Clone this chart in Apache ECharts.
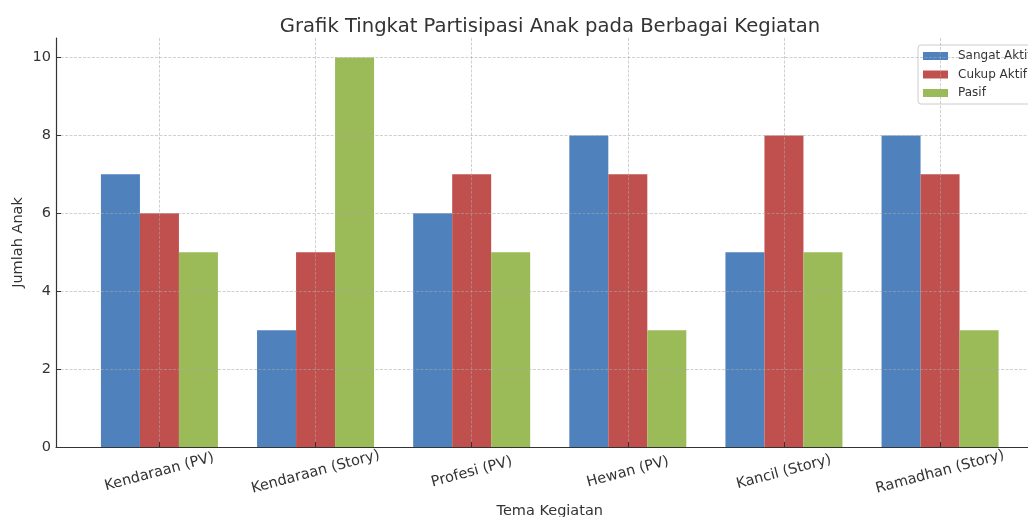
<!DOCTYPE html>
<html>
<head>
<meta charset="utf-8">
<title>Grafik Tingkat Partisipasi Anak</title>
<script src="https://cdn.jsdelivr.net/npm/echarts@6/dist/echarts.min.js"></script>
<style>
  html, body { margin: 0; padding: 0; background: #fff; }
  #chart { width: 1028px; height: 517px; }
</style>
</head>
<body>
<div id="chart"></div>
<script>
// data
var categories = ['Kendaraan (PV)', 'Kendaraan (Story)', 'Profesi (PV)', 'Hewan (PV)', 'Kancil (Story)', 'Ramadhan (Story)']
var sangatAktif = [7, 3, 6, 8, 5, 8]
var cukupAktif = [6, 5, 7, 7, 8, 7]
var pasif = [5, 10, 5, 3, 5, 3]
var seriesNames = ['Sangat Aktif', 'Cukup Aktif', 'Pasif']
var yTicks = [0, 2, 4, 6, 8, 10]

var colors = ['#4f81bd', '#c0504d', '#9bbb59']
var font = 'DejaVu Sans'

function toPoints (values) {
  var out = []
  for (var i = 0; i < values.length; i++) {
    out.push([i, values[i]])
  }
  return out
}

// dashed grid, drawn over the bars like the original
var gridLine = { color: 'rgba(170,170,170,0.55)', width: 1, type: [3, 1.5] }

var myChart = echarts.init(document.getElementById('chart'))
var option = {
  animation: false,
  color: colors,
  textStyle: { fontFamily: font, color: '#333' },
  title: {
    text: 'Grafik Tingkat Partisipasi Anak pada Berbagai Kegiatan',
    left: 545,
    textAlign: 'center',
    top: 12,
    textStyle: { fontFamily: font, fontSize: 19.6, fontWeight: 'normal', color: '#333' }
  },
  legend: {
    data: seriesNames,
    orient: 'vertical',
    left: 918,
    top: 45,
    icon: 'rect',
    itemWidth: 25,
    itemHeight: 8,
    itemGap: 6.5,
    padding: [5, 15, 5, 5],
    borderColor: '#cccccc',
    borderWidth: 1,
    borderRadius: 3,
    backgroundColor: 'rgba(255,255,255,0.85)',
    textStyle: { fontFamily: font, fontSize: 12, color: '#333', padding: [0, 0, 0, 5] }
  },
  grid: {
    left: 56,
    right: -15.5,
    top: 38,
    bottom: 70,
    containLabel: false,
    outerBoundsMode: 'none'
  },
  xAxis: {
    type: 'value',
    min: -0.6625,
    max: 5.6625,
    minInterval: 1,
    maxInterval: 1,
    z: 5,
    name: 'Tema Kegiatan',
    nameLocation: 'middle',
    nameGap: 57,
    nameTextStyle: { fontFamily: font, fontSize: 14.5, color: '#333' },
    axisLine: { show: true, onZero: false, lineStyle: { color: '#333', width: 1.2 } },
    axisTick: { show: true, inside: true, length: 5, lineStyle: { color: '#333' } },
    axisLabel: {
      rotate: 15,
      align: 'center',
      verticalAlign: 'middle',
      margin: 25,
      fontFamily: font,
      fontSize: 14.5,
      color: '#333',
      showMinLabel: false,
      showMaxLabel: false,
      formatter: function (v) {
        return Number.isInteger(v) && categories[v] ? categories[v] : ''
      }
    },
    splitLine: { show: true, showMinLine: false, showMaxLine: false, lineStyle: gridLine }
  },
  yAxis: {
    type: 'value',
    min: 0,
    max: 10.5,
    interval: yTicks[1] - yTicks[0],
    z: 5,
    name: 'Jumlah Anak',
    nameLocation: 'middle',
    nameGap: 30,
    nameMoveOverlap: false,
    nameTextStyle: { fontFamily: font, fontSize: 14.5, color: '#333' },
    axisLine: { show: true, onZero: false, lineStyle: { color: '#333', width: 1.2 } },
    axisTick: { show: true, inside: true, length: 5, lineStyle: { color: '#333' } },
    axisLabel: {
      fontFamily: font,
      fontSize: 14.5,
      color: '#333',
      margin: 5,
      showMaxLabel: false,
      formatter: function (v) {
        return yTicks.indexOf(v) >= 0 ? String(v) : ''
      }
    },
    splitLine: { show: true, showMinLine: false, showMaxLine: false, lineStyle: gridLine }
  },
  series: [
    { name: seriesNames[0], type: 'bar', barWidth: 39, barGap: '0%', data: toPoints(sangatAktif) },
    { name: seriesNames[1], type: 'bar', barWidth: 39, barGap: '0%', data: toPoints(cukupAktif) },
    { name: seriesNames[2], type: 'bar', barWidth: 39, barGap: '0%', data: toPoints(pasif) }
  ]
}
myChart.setOption(option)
</script>
</body>
</html>
